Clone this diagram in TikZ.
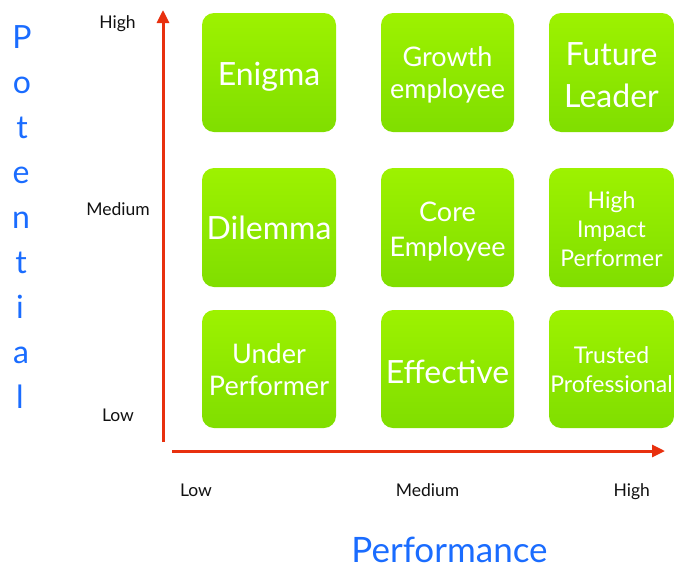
\documentclass[tikz,border=0pt]{standalone}
\usepackage{fontspec}
\setmainfont{Lato}
\usetikzlibrary{arrows.meta}
\definecolor{axisred}{HTML}{E8300E}
\definecolor{labelblue}{HTML}{1A6CFF}
\definecolor{boxtop}{HTML}{9DF200}
\definecolor{boxbot}{HTML}{80DE00}
\definecolor{ticktext}{HTML}{111111}
\newcommand\mlines[1]{\begin{tabular}[t]{@{}c@{}}#1\end{tabular}}
\tikzset{
  cell/.style={rounded corners=12pt, top color=boxtop, bottom color=boxbot,
    draw=none, inner sep=0pt},
  colA/.style={minimum width=134pt},
  colB/.style={minimum width=133pt},
  colC/.style={minimum width=125pt},
  rowA/.style={minimum height=119pt},
  rowB/.style={minimum height=119pt},
  rowC/.style={minimum height=118pt},
  celltext/.style={text=white, anchor=base, inner sep=0pt},
  big/.style={celltext, font=\fontsize{32}{#1}\selectfont},
  big/.default=42,
  mid/.style={celltext, font=\fontsize{27}{#1}\selectfont},
  small/.style={celltext, font=\fontsize{23}{#1}\selectfont},
  tick/.style={text=ticktext, font=\fontsize{17.5}{19}\selectfont, inner sep=0pt, anchor=base},
  axis/.style={draw=axisred, line width=3pt, -{Triangle[length=13pt,width=12pt]}},
  plet/.style={text=labelblue, font=\fontsize{32}{34}\selectfont, inner sep=0pt, anchor=base},
}
\begin{document}
\begin{tikzpicture}[x=1pt,y=-1pt]
\useasboundingbox (0,0) rectangle (675,568);
% boxes
\node[cell,colA,rowA] (enigma) at (269,72.5) {};
\node[cell,colB,rowA] (growth) at (447.5,72.5) {};
\node[cell,colC,rowA] (future) at (611.5,72.5) {};
\node[cell,colA,rowB] (dilemma) at (269,227.5) {};
\node[cell,colB,rowB] (core) at (447.5,227.5) {};
\node[cell,colC,rowB] (impact) at (611.5,227.5) {};
\node[cell,colA,rowC] (under) at (269,369) {};
\node[cell,colB,rowC] (effective) at (447.5,369) {};
\node[cell,colC,rowC] (trusted) at (611.5,369) {};
% box texts (placed at their first baselines)
\node[big] (enigmaT) at (269,85) {Enigma};
\node[mid=32.3] (growthT) at (447.5,66) {\mlines{Growth\\employee}};
\node[big=42.3] (futureT) at (611.5,65) {\mlines{Future\\Leader}};
\node[big] (dilemmaT) at (269,239.3) {Dilemma};
\node[mid=34.3] (coreT) at (447.5,221.7) {\mlines{Core\\Employee}};
\node[small=29] (impactT) at (611.5,208.3) {\mlines{High\\Impact\\Performer}};
\node[mid=31.7] (underT) at (269,363.3) {\mlines{Under\\Performer}};
\node[big] (effectiveT) at (447.5,383.3) {Effective};
\node[small=29.4] (trustedT) at (611.5,363.3) {\mlines{Trusted\\Professional}};
% axes
\coordinate (vs) at (163,442);
\coordinate (ve) at (163,10);
\coordinate (hs) at (172,451);
\coordinate (he) at (665,451);
\draw[axis] (vs) -- (ve);
\draw[axis] (hs) -- (he);
% tick labels
\node[tick] (yhigh) at (117.5,28.3) {High};
\node[tick] (ymed) at (118,215) {Medium};
\node[tick] (ylow) at (118,421.7) {Low};
\node[tick] (xlow) at (196,496.7) {Low};
\node[tick] (xmed) at (427.5,496.7) {Medium};
\node[tick] (xhigh) at (631.7,496.7) {High};
% axis titles
\node[text=labelblue, font=\fontsize{35}{37}\selectfont, inner sep=0pt, anchor=base] (perf) at (449.5,562) {Performance};
\node[plet] (p1) at (22,48.3) {P};
\node[plet] (p2) at (22,93.3) {o};
\node[plet] (p3) at (22,138.3) {t};
\node[plet] (p4) at (21,183.3) {e};
\node[plet] (p5) at (21,228.3) {n};
\node[plet] (p6) at (21,273.3) {t};
\node[plet] (p7) at (20,318.3) {i};
\node[plet] (p8) at (21,363.3) {a};
\node[plet] (p9) at (20,408.3) {l};
\end{tikzpicture}
\end{document}
